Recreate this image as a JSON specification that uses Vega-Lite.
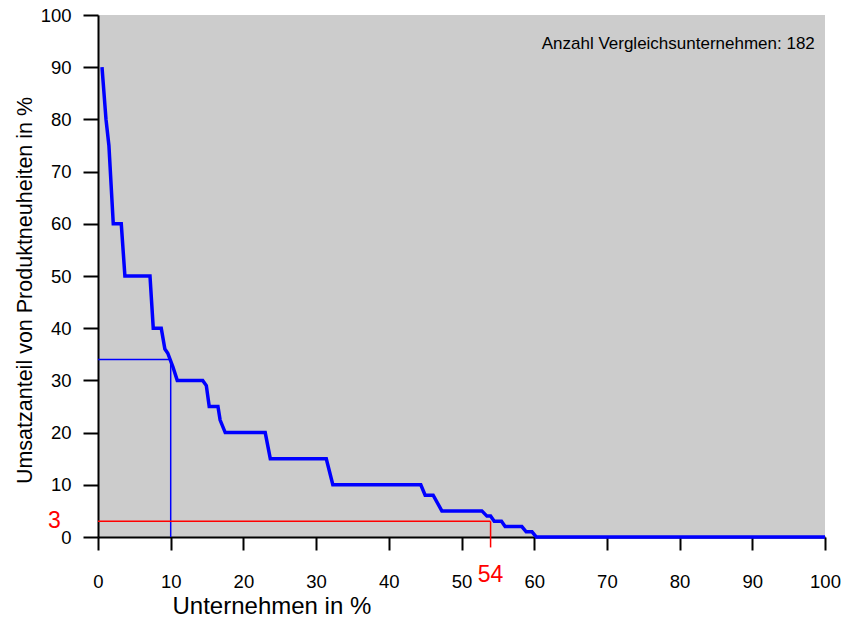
{
  "$schema": "https://vega.github.io/schema/vega-lite/v6.json",
  "width": 727,
  "height": 522,
  "autosize": {"type": "none"},
  "padding": {"left": 98, "top": 15, "right": 20, "bottom": 81},
  "background": "white",
  "config": {
    "view": {"fill": "#cccccc", "stroke": null},
    "font": "Liberation Sans",
    "axis": {"grid": false, "domainColor": "black", "tickColor": "black", "labelColor": "black", "titleColor": "black", "domainWidth": 2, "tickWidth": 2, "labelFontSize": 18.5, "titleFontWeight": "normal", "labelFont": "Liberation Sans", "titleFont": "Liberation Sans", "labelFlush": false, "labelOverlap": false}
  },
  "datasets": {
    "curve": [
      {"x": 0.55, "y": 90}, {"x": 1.1, "y": 80}, {"x": 1.5, "y": 75}, {"x": 2.1, "y": 60},
      {"x": 3.2, "y": 60}, {"x": 3.7, "y": 50}, {"x": 7.15, "y": 50}, {"x": 7.6, "y": 40},
      {"x": 8.7, "y": 40}, {"x": 9.2, "y": 36}, {"x": 9.6, "y": 35.2}, {"x": 10.3, "y": 32.6},
      {"x": 10.9, "y": 30}, {"x": 14.4, "y": 30}, {"x": 14.9, "y": 29}, {"x": 15.3, "y": 25},
      {"x": 16.5, "y": 25}, {"x": 16.8, "y": 22.4}, {"x": 17.5, "y": 20}, {"x": 23, "y": 20},
      {"x": 23.7, "y": 15}, {"x": 31.4, "y": 15}, {"x": 32.3, "y": 10}, {"x": 44.4, "y": 10},
      {"x": 45, "y": 8}, {"x": 46.1, "y": 8}, {"x": 47.3, "y": 5}, {"x": 52.8, "y": 5},
      {"x": 53.5, "y": 4}, {"x": 54, "y": 4}, {"x": 54.5, "y": 3}, {"x": 55.5, "y": 3},
      {"x": 56, "y": 2}, {"x": 58.3, "y": 2}, {"x": 58.9, "y": 1}, {"x": 59.7, "y": 1},
      {"x": 60.3, "y": 0}, {"x": 100, "y": 0}
    ],
    "blueRef": [
      {"x": 0, "x2": 10, "y": 34, "y2": 34},
      {"x": 10, "x2": 10, "y": 34, "y2": 0}
    ],
    "redRef": [
      {"x": 0, "x2": 54, "y": 3, "y2": 3},
      {"x": 54, "x2": 54, "y": 3, "y2": -2}
    ],
    "redLabels": [
      {"x": -6, "y": 3, "label": "3"},
      {"x": 54, "y": -7.3, "label": "54"}
    ],
    "note": [
      {"x": 98.6, "y": 94.5, "label": "Anzahl Vergleichsunternehmen: 182"}
    ]
  },
  "layer": [
    {
      "data": {"name": "blueRef"},
      "mark": {"type": "rule", "color": "#0000ff", "strokeWidth": 1.5},
      "encoding": {
        "x": {"field": "x", "type": "quantitative", "scale": {"domain": [0, 100], "nice": false},
          "axis": {"values": [0,10,20,30,40,50,60,70,80,90,100], "tickSize": 13, "labelPadding": 22, "title": "Unternehmen in %", "titleFontSize": 24, "titleAnchor": "start", "titleAlign": "left", "titleX": 74, "titleY": 76, "titleBaseline": "alphabetic"}},
        "x2": {"field": "x2"},
        "y": {"field": "y", "type": "quantitative", "scale": {"domain": [0, 100], "nice": false},
          "axis": {"values": [0,10,20,30,40,50,60,70,80,90,100], "tickSize": 15, "labelPadding": 12, "title": "Umsatzanteil von Produktneuheiten in %", "titleFontSize": 21.5, "titleX": -73, "titleY": 275, "titleAlign": "center", "titleBaseline": "middle", "titleAngle": -90}},
        "y2": {"field": "y2"}
      }
    },
    {
      "data": {"name": "redRef"},
      "mark": {"type": "rule", "color": "#ff0000", "strokeWidth": 1.5},
      "encoding": {
        "x": {"field": "x", "type": "quantitative"},
        "x2": {"field": "x2"},
        "y": {"field": "y", "type": "quantitative"},
        "y2": {"field": "y2"}
      }
    },
    {
      "data": {"name": "curve"},
      "mark": {"type": "line", "color": "#0000ff", "strokeWidth": 3.5, "strokeJoin": "miter"},
      "encoding": {
        "x": {"field": "x", "type": "quantitative"},
        "y": {"field": "y", "type": "quantitative"}
      }
    },
    {
      "data": {"name": "redLabels"},
      "mark": {"type": "text", "color": "#ff0000", "fontSize": 23, "align": "center", "baseline": "middle"},
      "encoding": {
        "x": {"field": "x", "type": "quantitative"},
        "y": {"field": "y", "type": "quantitative"},
        "text": {"field": "label"}
      }
    },
    {
      "data": {"name": "note"},
      "mark": {"type": "text", "color": "black", "fontSize": 17, "align": "right", "baseline": "middle"},
      "encoding": {
        "x": {"field": "x", "type": "quantitative"},
        "y": {"field": "y", "type": "quantitative"},
        "text": {"field": "label"}
      }
    }
  ]
}
